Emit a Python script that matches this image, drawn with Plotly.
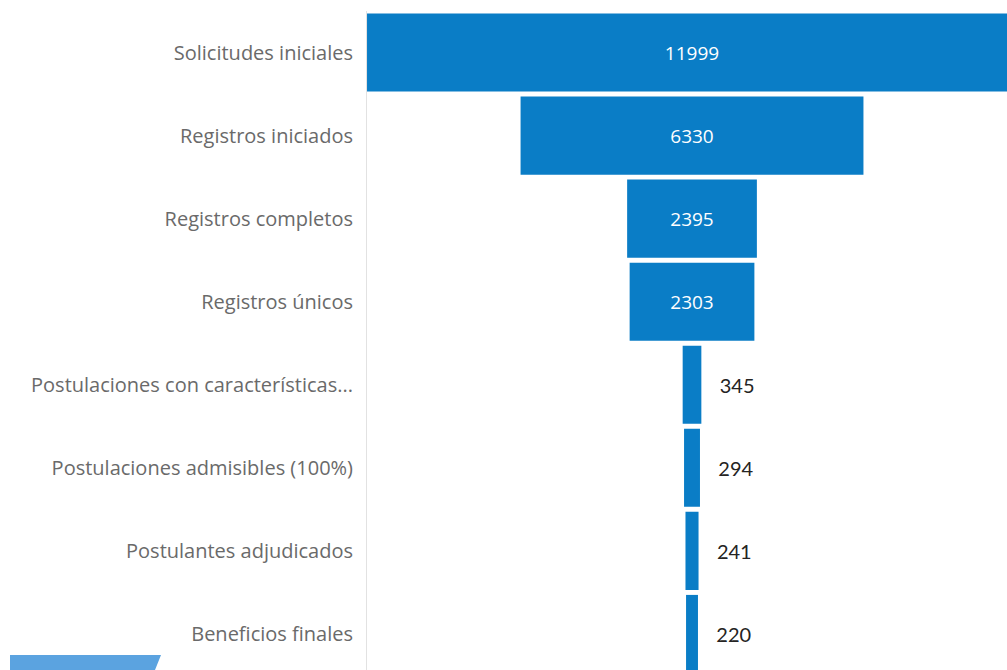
import plotly.graph_objects as go

stages = [
    "Solicitudes iniciales",
    "Registros iniciados",
    "Registros completos",
    "Registros únicos",
    "Postulaciones con características...",
    "Postulaciones admisibles (100%)",
    "Postulantes adjudicados",
    "Beneficios finales",
]
values = [11999, 6330, 2395, 2303, 345, 294, 241, 220]
text_positions = ["inside", "inside", "inside", "inside", "outside", "outside", "outside", "outside"]

pad = "\u00a0\u00a0\u00a0"
templates = ["%{x:.0f}" if p == "inside" else pad + "%{x:.0f}" for p in text_positions]

W, H = 1007, 670
left, right, top, bottom = 367, 0, 11, 0
plot_w = W - left - right
plot_h = H - top - bottom

fig = go.Figure(go.Funnel(
    y=stages,
    x=values,
    texttemplate=templates,
    textposition=text_positions,
    insidetextfont=dict(color="white", size=19, family="Open Sans"),
    outsidetextfont=dict(color="#252423", size=20, family="Lato"),
    marker=dict(color="#0A7DC6", line=dict(width=0)),
    connector=dict(visible=False),
    cliponaxis=True,
    constraintext="none",
    hoverinfo="y+x",
))

fig.update_layout(
    width=W, height=H,
    margin=dict(l=left, r=right, t=top, b=bottom, pad=0),
    paper_bgcolor="white",
    plot_bgcolor="white",
    showlegend=False,
    funnelgap=0.06,
    font=dict(family="Open Sans"),
)
fig.update_xaxes(
    range=[-6000, 5815],
    showgrid=False, zeroline=False, showticklabels=False, fixedrange=True,
)
fig.update_yaxes(
    range=[7.434, -0.5],
    showgrid=False, zeroline=False,
    showline=True, linecolor="#E2E2E2", linewidth=1,
    ticks="", ticklabelstandoff=9,
    tickfont=dict(color="#6A6A6A", size=20, family="Open Sans"),
)

# decorative blue parallelogram at the bottom-left
x0 = (10 - left) / plot_w
x1 = (161 - left) / plot_w
x2 = (155 - left) / plot_w
y0 = 0
y1 = (H - 655) / plot_h
fig.add_shape(
    type="path", xref="paper", yref="paper",
    path=f"M {x0},{y0} L {x0},{y1} L {x1},{y1} L {x2},{y0} Z",
    fillcolor="#5BA3E0", line=dict(width=0), layer="above",
)

fig.write_html(
    "out.html",
    config={"displayModeBar": False},
    post_script="document.body.style.margin='0';document.body.style.overflow='hidden';",
)
